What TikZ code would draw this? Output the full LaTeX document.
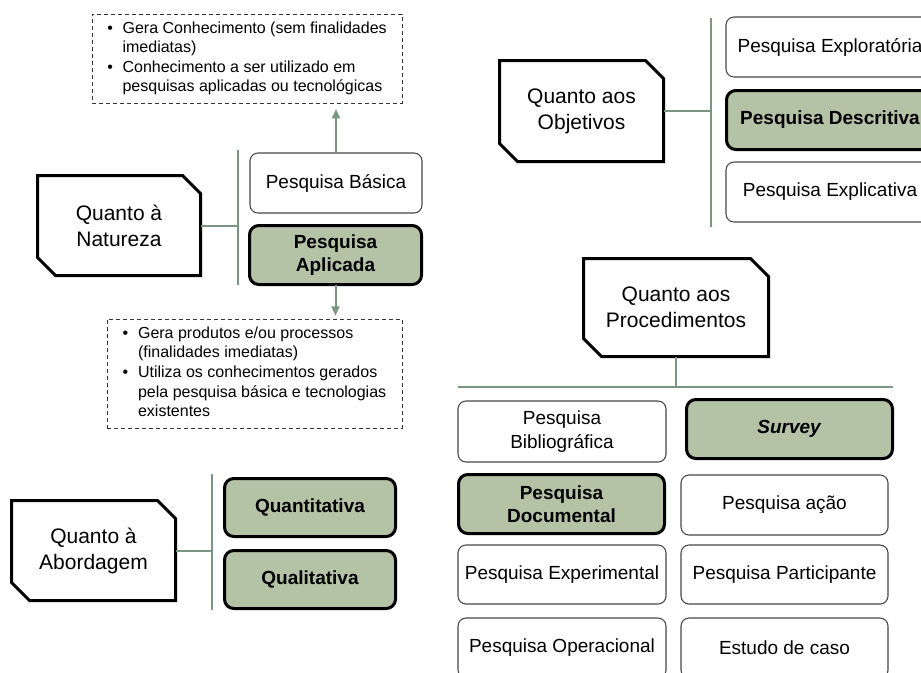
\documentclass[tikz,border=0pt]{standalone}
\usepackage{fontspec}
\setmainfont{Liberation Sans}
\usetikzlibrary{arrows.meta}
\definecolor{boxgreen}{RGB}{180,194,166}
\definecolor{linkgreen}{RGB}{122,150,130}
\definecolor{thinframe}{RGB}{70,70,70}
\newcommand{\drawchamf}[1]{\draw[catline] (#1.north west) -- ([xshift=-13.5pt]#1.north east) -- ([yshift=-13.5pt]#1.north east) -- (#1.south east) -- ([xshift=13.5pt]#1.south west) -- ([yshift=13.5pt]#1.south west) -- cycle;}
\newenvironment{bulletlist}{\begin{tabular}{@{}p{7pt}@{\hspace{4.5pt}}l@{}}}{\end{tabular}}
\begin{document}
\begin{tikzpicture}[x=0.75pt,y=-0.75pt,
  wh/.style 2 args={minimum width=#1*0.75pt, minimum height=#2*0.75pt},
  plainbox/.style={draw=thinframe, line width=0.8pt, rounded corners=6pt, fill=white, inner sep=0pt, outer sep=0pt, align=center, font=\fontsize{14.25}{17.5}\selectfont},
  keybox/.style={plainbox, draw=black, line width=2.25pt, fill=boxgreen, rounded corners=7pt, font=\fontsize{14.25}{17.5}\selectfont\bfseries},
  catnode/.style={inner sep=0pt, outer sep=0pt, align=center, font=\fontsize{15.75}{19.5}\selectfont},
  catline/.style={draw=black, line width=2.25pt, line join=miter},
  notebox/.style={draw=black!80, dash pattern=on 3pt off 2.25pt, line width=0.75pt, inner sep=0pt, outer sep=0pt, font=\fontsize{12}{14.7}\selectfont},
  linkline/.style={draw=linkgreen, line width=1.5pt},
  arrowline/.style={linkline, -{Triangle[width=6pt,length=7pt]}}
]
\useasboundingbox (0,0) rectangle (921,672);
\clip (0,0) rectangle (921,672);

% ---- Quanto a Natureza ----
\node[notebox, wh={310}{89}] (dashA) at (247,58.5) {\begin{bulletlist}
\textbullet & Gera Conhecimento (sem finalidades\\
 & imediatas)\\
\textbullet & Conhecimento a ser utilizado em\\
 & pesquisas aplicadas ou tecnológicas
\end{bulletlist}};
\node[plainbox, wh={172}{60}] (basica) at (336,183) {Pesquisa Básica};
\node[keybox, wh={172}{59}] (aplicada) at (335.5,255) {Pesquisa\\Aplicada};
\node[notebox, wh={295}{109}] (dashB) at (254.5,373.5) {\begin{bulletlist}
\textbullet & Gera produtos e/ou processos\\
 & (finalidades imediatas)\\
\textbullet & Utiliza os conhecimentos gerados\\
 & pela pesquisa básica e tecnologias\\
 & existentes
\end{bulletlist}};
\node[catnode, wh={163}{100}] (nat) at (119,225.5) {Quanto à\\Natureza};
\drawchamf{nat}
\coordinate (natT) at (238,150);
\coordinate (natB) at (238,285);
\draw[linkline] (natT) -- (natB);
\draw[linkline] (nat.east) -- (nat.east -| natT);
\draw[arrowline, shorten >=4.5pt] (basica.north) -- (basica.north |- dashA.south);
\draw[arrowline, shorten >=2.5pt] (aplicada.south) -- (aplicada.south |- dashB.north);

% ---- Quanto a Abordagem ----
\node[catnode, wh={164}{100}] (abo) at (93.5,550.5) {Quanto à\\Abordagem};
\drawchamf{abo}
\coordinate (aboT) at (212,474);
\coordinate (aboB) at (212,610);
\draw[linkline] (aboT) -- (aboB);
\draw[linkline] (abo.east) -- (abo.east -| aboT);
\node[keybox, wh={171}{58}] (quanti) at (310,507.5) {Quantitativa};
\node[keybox, wh={171}{58}] (quali) at (310,579.5) {Qualitativa};

% ---- Quanto aos Objetivos ----
\node[catnode, wh={164}{101}] (obj) at (581.5,111) {Quanto aos\\Objetivos};
\drawchamf{obj}
\coordinate (objT) at (711,18);
\coordinate (objB) at (711,227);
\draw[linkline] (objT) -- (objB);
\draw[linkline] (obj.east) -- (obj.east -| objT);
\node[plainbox, wh={208}{60}] (explo) at (830,47) {Pesquisa Exploratória};
\node[keybox, wh={207}{59}] (descr) at (830,120) {Pesquisa Descritiva};
\node[plainbox, wh={208}{60}] (expli) at (830,192) {Pesquisa Explicativa};

% ---- Quanto aos Procedimentos ----
\node[catnode, wh={185}{98}] (proc) at (676,307.5) {Quanto aos\\Procedimentos};
\drawchamf{proc}
\coordinate (hL) at (458,387);
\coordinate (hR) at (893,387);
\draw[linkline] (hL) -- (hR);
\draw[linkline] (proc.south) -- (proc.south |- hL);
\node[plainbox, wh={208}{61}] (biblio) at (562,431.5) {Pesquisa\\Bibliográfica};
\node[keybox, wh={206}{59}] (survey) at (789.5,429) {\textit{Survey}};
\node[keybox, wh={206}{59}] (docu) at (561.5,504) {Pesquisa\\Documental};
\node[plainbox, wh={207}{60}] (acao) at (784.5,505) {Pesquisa ação};
\node[plainbox, wh={208}{59}] (exper) at (562,574.5) {Pesquisa Experimental};
\node[plainbox, wh={207}{59}] (partic) at (784.5,574.5) {Pesquisa Participante};
\node[plainbox, wh={208}{60}] (opera) at (562,648) {Pesquisa Operacional};
\node[plainbox, wh={207}{60}] (estudo) at (784.5,648) {Estudo de caso};
\end{tikzpicture}
\end{document}
